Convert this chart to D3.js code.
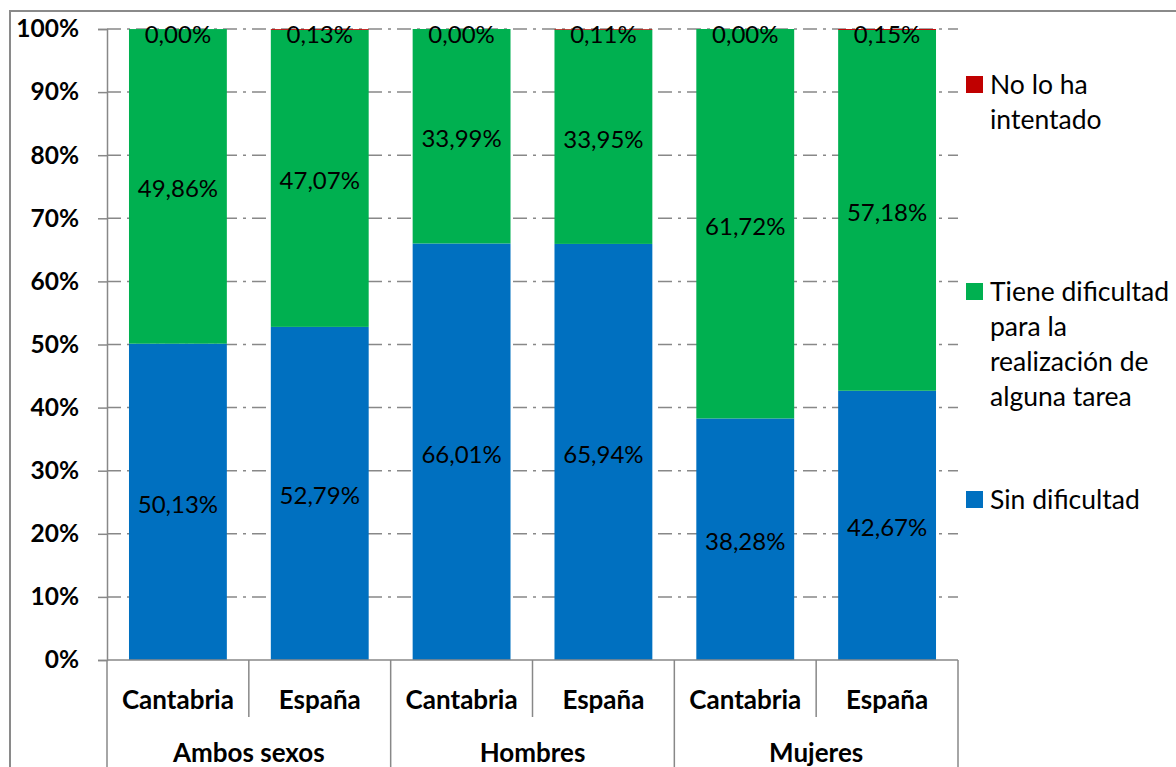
<!DOCTYPE html>
<html>
<head>
<meta charset="utf-8">
<script src="https://cdn.jsdelivr.net/npm/d3@7"></script>
<style>
  html, body { margin: 0; padding: 0; background: #fff; }
  svg { display: block; font-family: Lato, "Open Sans", sans-serif; }
</style>
</head>
<body>
<svg id="chart" width="1176" height="767"></svg>
<script>
// Groups and sub-categories (two-level category axis)
const groups = ["Ambos sexos", "Hombres", "Mujeres"];
const places = ["Cantabria", "España"];

// Series values in %, one per bar, in order:
// Ambos-Cantabria, Ambos-España, Hombres-Cantabria, Hombres-España, Mujeres-Cantabria, Mujeres-España
const sinDificultad   = [50.13, 52.79, 66.01, 65.94, 38.28, 42.67];
const tieneDificultad = [49.86, 47.07, 33.99, 33.95, 61.72, 57.18];
const noLoHaIntentado = [0.00, 0.13, 0.00, 0.11, 0.00, 0.15];

const seriesColors = ["#0070C0", "#00B050", "#C00000"];

const yTicks = [0, 10, 20, 30, 40, 50, 60, 70, 80, 90, 100];

// Build stacked rows
const bars = [];
groups.forEach((g, gi) => places.forEach((p, pi) => {
  const i = gi * places.length + pi;
  bars.push({ key: g + "|" + p, group: g, place: p,
    s0: sinDificultad[i], s1: tieneDificultad[i], s2: noLoHaIntentado[i] });
}));
const stack = d3.stack().keys(["s0", "s1", "s2"])(bars);

const svg = d3.select("#chart");
const plotLeft = 107, plotRight = 958, plotTop = 29, plotBottom = 660;

const x = d3.scaleBand().domain(bars.map(d => d.key)).range([plotLeft, plotRight])
  .paddingInner(0.31).paddingOuter(0.155);
const xg = d3.scaleBand().domain(groups).range([plotLeft, plotRight]);
const y = d3.scaleLinear().domain([0, 100]).range([plotBottom, plotTop]);

const grey = "#888888";
const locale = d3.formatLocale({ decimal: ",", thousands: ".", grouping: [3], currency: ["", "€"] });
const fmt = v => locale.format(".2f")(v) + "%";

// Outer chart frame
svg.append("path").attr("d", "M10,767 L10,11 L1176,11")
  .attr("fill", "none").attr("stroke", "#8a8a8a").attr("stroke-width", 2);

// Gridlines (dash-dot)
svg.append("g").selectAll("line").data(yTicks.filter(t => t > 0)).join("line")
  .attr("x1", plotLeft).attr("x2", plotRight)
  .attr("y1", d => y(d)).attr("y2", d => y(d))
  .attr("stroke", grey).attr("stroke-width", 1.5)
  .attr("stroke-dasharray", "14,6,3,6");

// Y axis
const yAxis = d3.axisLeft(y).tickValues(yTicks).tickFormat(d => d + "%").tickSize(9).tickPadding(19);
const ya = svg.append("g").attr("transform", `translate(${plotLeft},0)`).call(yAxis);
ya.select(".domain").attr("stroke", grey).attr("stroke-width", 1.5);
ya.selectAll(".tick line").attr("stroke", grey).attr("stroke-width", 1.5);
ya.selectAll(".tick text").attr("font-size", 24.5).attr("font-weight", "bold")
  .attr("fill", "#000").attr("font-family", "Lato, sans-serif");

// Bars
svg.append("g").selectAll("g").data(stack).join("g")
  .attr("fill", (d, i) => seriesColors[i])
  .selectAll("rect").data(d => d).join("rect")
  .attr("x", d => x(d.data.key)).attr("width", x.bandwidth())
  .attr("y", d => y(d[1])).attr("height", d => y(d[0]) - y(d[1]));

// Data labels, centred in each segment
const labels = [];
stack.forEach(s => s.forEach(d => labels.push({ key: d.data.key, v: d.data[s.key], mid: (d[0] + d[1]) / 2 })));
svg.append("g").selectAll("text").data(labels).join("text")
  .attr("x", d => x(d.key) + x.bandwidth() / 2)
  .attr("y", d => Math.max(y(d.mid) + 1.5, plotTop + 4))
  .attr("text-anchor", "middle").attr("dominant-baseline", "central")
  .attr("font-size", 24).attr("fill", "#000")
  .text(d => fmt(d.v));

// Category axis: baseline and separators
const cat = svg.append("g").attr("stroke", grey).attr("stroke-width", 1.5);
cat.append("line").attr("x1", plotLeft).attr("x2", plotRight).attr("y1", plotBottom).attr("y2", plotBottom);
[...groups.map(g => xg(g)), plotRight].forEach(px =>
  cat.append("line").attr("x1", px).attr("x2", px).attr("y1", plotBottom).attr("y2", 767));
groups.forEach(g =>
  cat.append("line").attr("x1", xg(g) + xg.bandwidth() / 2).attr("x2", xg(g) + xg.bandwidth() / 2)
    .attr("y1", plotBottom).attr("y2", 717));

svg.append("g").selectAll("text").data(bars).join("text")
  .attr("x", d => x(d.key) + x.bandwidth() / 2).attr("y", 699)
  .attr("text-anchor", "middle").attr("dominant-baseline", "central")
  .attr("font-size", 26).attr("font-weight", "bold").attr("fill", "#000")
  .text(d => d.place);

svg.append("g").selectAll("text").data(groups).join("text")
  .attr("x", d => xg(d) + xg.bandwidth() / 2).attr("y", 762)
  .attr("text-anchor", "middle")
  .attr("font-size", 26).attr("font-weight", "bold").attr("fill", "#000")
  .text(d => d);

// Legend (top to bottom: series in reverse stacking order)
const legendItems = [
  { color: seriesColors[2], lines: ["No lo ha", "intentado"], y0: 84 },
  { color: seriesColors[1], lines: ["Tiene dificultad", "para la", "realización de", "alguna tarea"], y0: 291 },
  { color: seriesColors[0], lines: ["Sin dificultad"], y0: 499 }
];
const lg = svg.append("g");
legendItems.forEach(it => {
  lg.append("rect").attr("x", 966).attr("y", it.y0 - 8).attr("width", 17).attr("height", 17).attr("fill", it.color);
  it.lines.forEach((ln, k) => lg.append("text")
    .attr("x", 990).attr("y", it.y0 + k * 35)
    .attr("dominant-baseline", "central").attr("font-size", 26.5).attr("fill", "#000")
    .text(ln));
});
</script>
</body>
</html>
